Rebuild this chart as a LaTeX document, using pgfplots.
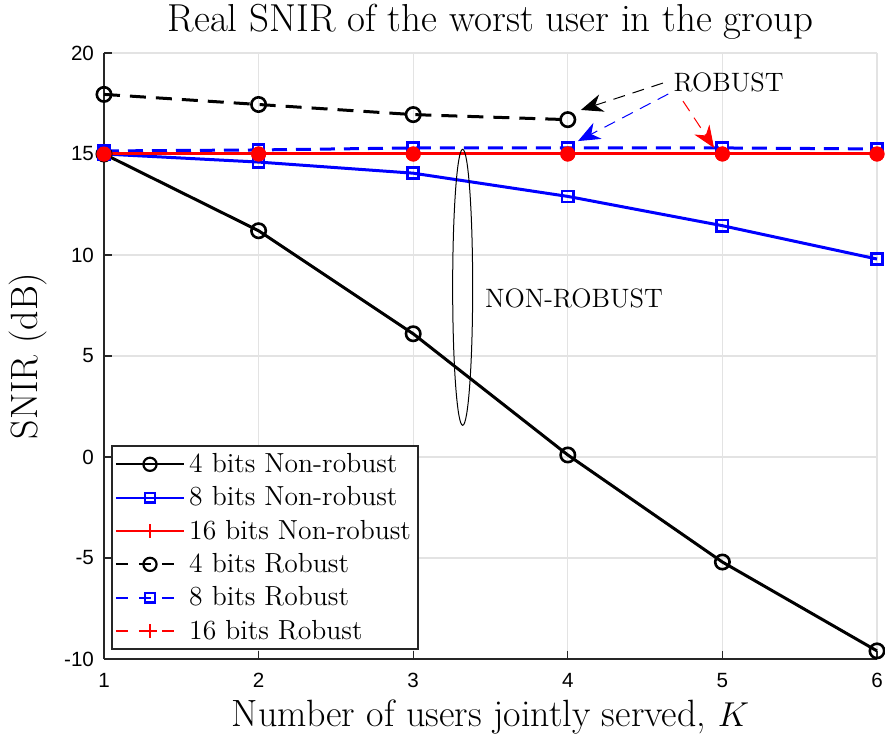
\documentclass[border=0pt]{standalone}
\usepackage{pgfplots}
\pgfplotsset{compat=1.18}
\usepackage{fontspec}
\newfontfamily\arial{Liberation Sans}
\usetikzlibrary{arrows.meta}
\begin{document}
\begin{tikzpicture}
\begin{axis}[
  scale only axis,
  width=386.5pt, height=303pt,
  xmin=1, xmax=6, ymin=-10, ymax=20,
  axis x line*=bottom, axis y line*=left,
  xtick={1,2,3,4,5,6}, ytick={-10,-5,0,5,10,15,20},
  xticklabels={1,2,3,4,5,6},
  yticklabels={-10,-5,0,5,10,15,20},
  tick label style={font=\arial\fontsize{10.3}{10.3}\selectfont},
  xticklabel style={yshift=-3.5pt},
  yticklabel style={xshift=-1.5pt},
  tick align=inside, major tick length=4pt,
  tick style={black!85, line width=0.6pt},
  axis line style={black!85, line width=0.8pt, -},
  grid=major, major grid style={gray!22, line width=0.6pt},
  title={Real SNIR of the worst user in the group},
  title style={font=\fontsize{19.5}{19.5}\selectfont, at={(axis description cs:0.5,1.0157)}, anchor=base},
  xlabel={Number of users jointly served, $K$},
  ylabel={SNIR (dB)},
  label style={font=\fontsize{19}{19}\selectfont},
  xlabel style={at={(axis description cs:0.5,-0.1122)}, anchor=base},
  ylabel style={at={(axis description cs:-0.0855,0.5)}, anchor=base},
  clip=false,
  legend cell align=left,
  legend style={at={(0.009,0.0149)}, anchor=south west, draw=black!85, line width=0.8pt,
    font=\fontsize{13.8}{13.8}\selectfont, inner sep=1.5pt, row sep=1.6pt,
    nodes={inner sep=2pt}},
  legend image code/.code={\draw[mark repeat=2,mark phase=2] plot coordinates {(0cm,0cm) (0.6cm,0cm) (1.2cm,0cm)};},
]
\addplot[black, line width=1.5pt, mark=o, mark size=3.6pt, mark options={solid, line width=1.3pt}, forget plot]
  coordinates {(1,15) (2,11.2) (3,6.1) (4,0.1) (5,-5.2) (6,-9.6)};
\addplot[blue, line width=1.5pt, mark=square, mark size=2.8pt, mark options={solid, line width=1.3pt}, forget plot]
  coordinates {(1,15) (2,14.6) (3,14.05) (4,12.9) (5,11.45) (6,9.8)};
\addplot[red, line width=1.5pt, mark=*, mark size=3pt, mark options={solid}, forget plot]
  coordinates {(1,15) (2,15) (3,15) (4,15) (5,15) (6,15)};
\addplot[black, line width=1.5pt, dash pattern=on 8pt off 5pt, mark=o, mark size=3.6pt, mark options={solid, line width=1.3pt}, forget plot]
  coordinates {(1,17.95) (2,17.45) (3,16.95) (4,16.7)};
\addplot[blue, line width=1.5pt, dash pattern=on 7.5pt off 4.5pt, mark=square, mark size=2.8pt, mark options={solid, line width=1.3pt}, forget plot]
  coordinates {(1,15.15) (2,15.2) (3,15.3) (4,15.3) (5,15.3) (6,15.25)};
\addplot[red, line width=1.5pt, dash pattern=on 7pt off 5pt, mark=*, mark size=3pt, mark options={solid}, forget plot]
  coordinates {(1,15) (2,15) (3,15) (4,15) (5,15) (6,15)};

\addlegendimage{black, line width=1.1pt, mark=o, mark size=3.3pt, mark options={solid}}
\addlegendentry{4 bits Non-robust}
\addlegendimage{blue, line width=1.1pt, mark=square, mark size=2.4pt, mark options={solid}}
\addlegendentry{8 bits Non-robust}
\addlegendimage{red, line width=1.1pt, mark=+, mark size=3.5pt, mark options={solid}}
\addlegendentry{16 bits Non-robust}
\addlegendimage{black, line width=1.1pt, dash pattern=on 6pt off 5.5pt, mark=o, mark size=3.3pt, mark options={solid}}
\addlegendentry{4 bits Robust}
\addlegendimage{blue, line width=1.1pt, dash pattern=on 6pt off 5.5pt, mark=square, mark size=2.4pt, mark options={solid}}
\addlegendentry{8 bits Robust}
\addlegendimage{red, line width=1.1pt, dash pattern=on 6pt off 5.5pt, mark=+, mark size=3.5pt, mark options={solid}}
\addlegendentry{16 bits Robust}

\node[font=\fontsize{13.3}{13.3}\selectfont] at (axis cs:5.04,18.56) {ROBUST};
\node[font=\fontsize{13.3}{13.3}\selectfont] at (axis cs:4.04,7.87) {NON-ROBUST};
\draw[black, line width=0.5pt, dash pattern=on 6pt off 4pt, -{Stealth[length=11pt,width=9pt,inset=3.5pt]}] (axis cs:4.615,18.51) -- (axis cs:4.085,17.18);
\draw[blue, line width=0.5pt, dash pattern=on 6pt off 4pt, -{Stealth[length=11pt,width=9pt,inset=3.5pt]}] (axis cs:4.65,17.97) -- (axis cs:4.066,15.64);
\draw[red, line width=0.5pt, dash pattern=on 6pt off 4pt, -{Stealth[length=11pt,width=9pt,inset=3.5pt]}] (axis cs:4.745,17.62) -- (axis cs:4.946,15.3);
\draw[black, line width=0.5pt] (axis cs:3.32,8.4) ellipse [x radius=5pt, y radius=69pt];
\end{axis}
\pgfresetboundingbox
\path (current axis.south west) ++(-52pt,-41.5pt) rectangle ++(442.5pt,371pt);
\end{tikzpicture}
\end{document}
